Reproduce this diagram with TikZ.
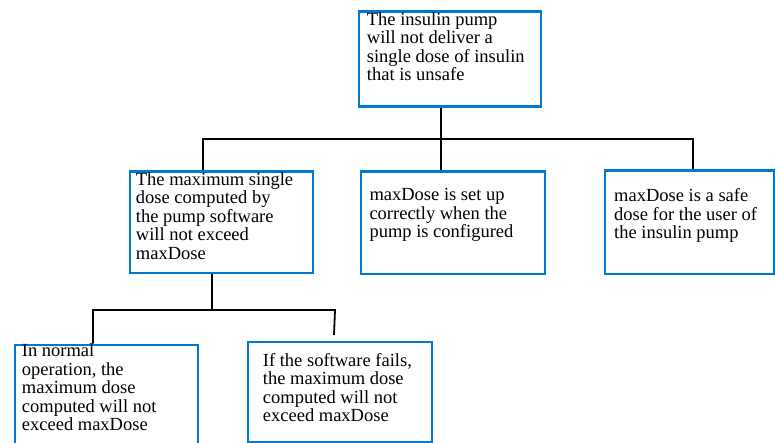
\documentclass[tikz,border=0pt]{standalone}
\usepackage{fontspec}
\setmainfont{Liberation Serif}
\usepackage{xcolor}
\usepackage{tikz}
\usetikzlibrary{positioning}
\definecolor{boxblue}{RGB}{0,120,212}

\begin{document}
\begin{tikzpicture}[
    x=1pt, y=-1pt,
    goal/.style={rectangle, draw=boxblue, line width=2.5pt, anchor=north west, inner sep=0pt},
    goaltext/.style={inner sep=0pt, align=left, font=\fontsize{18.5}{18.5}\selectfont},
    link/.style={draw=black, line width=1.8pt}
]
\useasboundingbox (0,0) rectangle (775,443);

% Top goal
\node[goal, minimum width=182pt, minimum height=95pt] (top) at (357.5,10.5) {};
\node[goaltext, below right=1.9pt and 9.2pt of top.north west] (toptext)
    {The insulin pump\\will not deliver a\\single dose of insulin\\that is unsafe};

% Sub-goals
\node[goal, minimum width=183pt, minimum height=101pt] (soft) at (128.5,170.5) {};
\node[goaltext, below right=1.9pt and 7.2pt of soft.north west] (softtext)
    {The maximum single\\dose computed by\\the pump software\\will not exceed\\maxDose};
\node[goal, minimum width=184pt, minimum height=102pt] (config) at (359.5,170.5) {};
\node[goaltext, below right=17.9pt and 9.8pt of config.north west] (configtext)
    {maxDose is set up\\correctly when the\\pump is configured};
\node[goal, minimum width=169pt, minimum height=103pt] (safe) at (603.5,169.5) {};
\node[goaltext, below right=18.9pt and 10.5pt of safe.north west] (safetext)
    {maxDose is a safe\\dose for the user of\\the insulin pump};

% Bottom goals
\node[goal, minimum width=183pt, minimum height=110pt] (normal) at (13.5,343.5) {};
\node[goaltext, below right=0pt and 8.2pt of normal.north west] (normaltext)
    {In normal\\operation, the\\maximum dose\\computed will not\\exceed maxDose};
\node[goal, minimum width=184pt, minimum height=100pt] (fails) at (246.5,340.5) {};
\node[goaltext, below right=12.6pt and 16.2pt of fails.north west] (failstext)
    {If the software fails,\\the maximum dose\\computed will not\\exceed maxDose};

% Junctions
\coordinate (split) at (441,139);
\coordinate (leftj) at (203,139);
\coordinate (rightj) at (693,139);
\coordinate (split2) at (212,310);
\coordinate (leftj2) at (93,310);
\coordinate (rightj2) at (335,310);
\coordinate (failsend) at (334,335);

% Lines
\draw[link] (top.south -| split) -- (config.north -| split);
\draw[link] (soft.north -| leftj) -- (leftj) -- (rightj) -- (safe.north -| rightj);
\draw[link] (soft.south -| split2) -- (split2);
\draw[link] (normal.north -| leftj2) -- (leftj2) -- (rightj2) -- (failsend);

\end{tikzpicture}
\end{document}
